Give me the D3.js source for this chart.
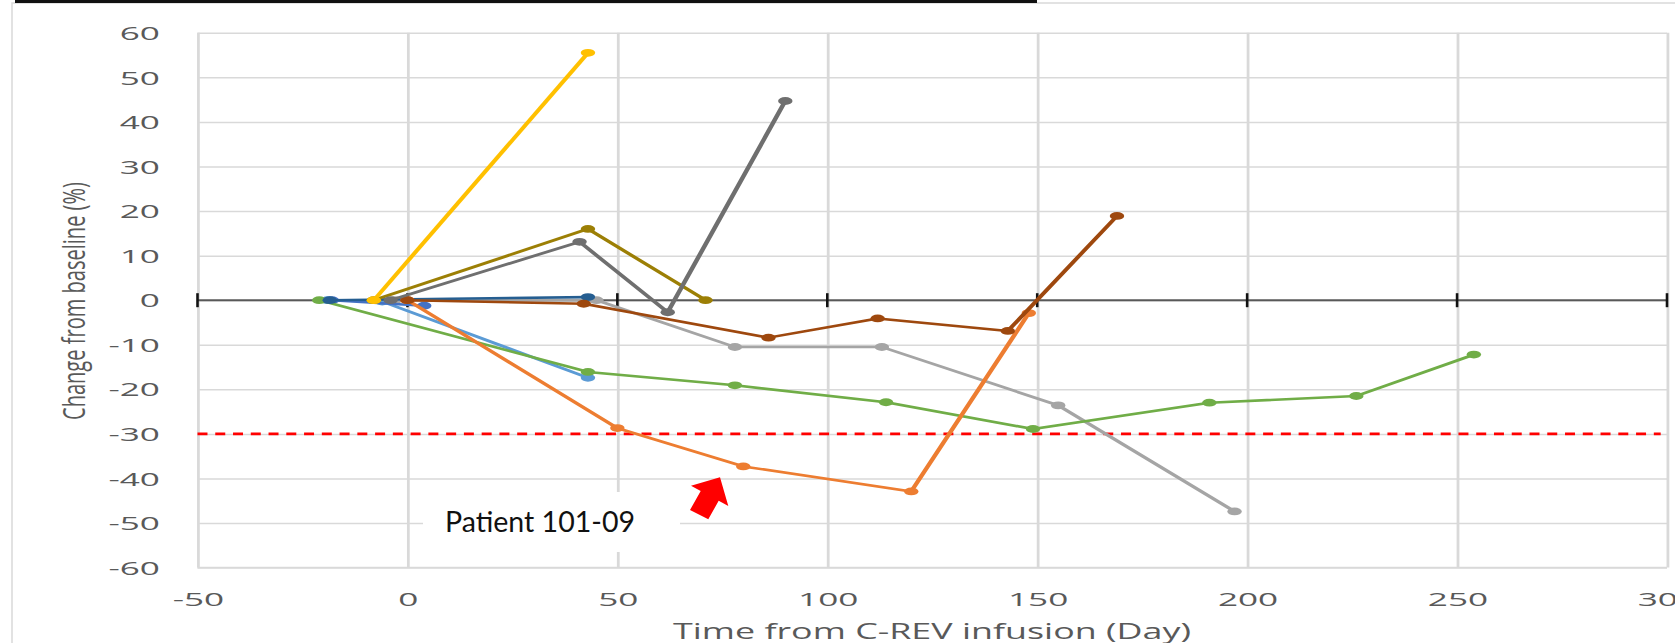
<!DOCTYPE html>
<html>
<head>
<meta charset="utf-8">
<script src="https://cdn.jsdelivr.net/npm/d3@7"></script>
<style>
  html, body { margin: 0; padding: 0; background: #fff; }
  svg { display: block; }
</style>
</head>
<body>
<svg id="chart" width="1675" height="643"></svg>
<script>
// ---------------- DATA ----------------
const xTicks = [-50, 0, 50, 100, 150, 200, 250, 300];
const yTicks = [-60, -50, -40, -30, -20, -10, 0, 10, 20, 30, 40, 50, 60];
const responseThreshold = -30;

const seriesNames = ["lightGray", "lightBlue", "mediumBlue", "green", "darkBlue",
                     "orange", "brown", "olive", "darkGray", "yellow"];

const lightGrayDays   = [-3, 45, 78, 113, 155, 197];
const lightGrayValues = [0, 0, -10.5, -10.5, -23.6, -47.4];

const lightBlueDays   = [-19, -6, 43];
const lightBlueValues = [0, -0.3, -17.4];

const mediumBlueDays   = [-18, 4];
const mediumBlueValues = [0, -1.25];

const greenDays   = [-21, 43, 78, 114, 149, 191, 226, 254];
const greenValues = [0, -16.1, -19.1, -22.9, -28.9, -23.0, -21.5, -12.2];

const darkBlueDays   = [-18.5, 43];
const darkBlueValues = [0, 0.7];

const orangeDays   = [0, 50, 80, 120, 148];
const orangeValues = [0, -28.7, -37.3, -42.9, -2.9];

const brownDays   = [0, 42, 86, 112, 143, 169];
const brownValues = [0, -0.8, -8.4, -4.1, -6.9, 18.9];

const oliveDays   = [-8, 43, 71];
const oliveValues = [0, 16.0, 0];

const darkGrayDays   = [-4, 41, 62, 90];
const darkGrayValues = [0, 13.1, -2.7, 44.7];

const yellowDays   = [-8, 43];
const yellowValues = [0, 55.5];

const seriesColors = ["#A5A5A5", "#5B9BD5", "#4472C4", "#70AD47", "#255E91",
                      "#ED7D31", "#9E480E", "#9C7F05", "#6F6F6F", "#FFC000"];

const xTitle = "Time from C-REV infusion (Day)";
const yTitle = "Change from baseline (%)";
const annotationText = "Patient 101-09";

const allSeries = [
  [lightGrayDays, lightGrayValues], [lightBlueDays, lightBlueValues],
  [mediumBlueDays, mediumBlueValues], [greenDays, greenValues],
  [darkBlueDays, darkBlueValues], [orangeDays, orangeValues],
  [brownDays, brownValues], [oliveDays, oliveValues],
  [darkGrayDays, darkGrayValues], [yellowDays, yellowValues]
].map((p, i) => ({ name: seriesNames[i], color: seriesColors[i],
                   points: p[0].map((d, j) => ({ day: d, value: p[1][j] })) }));

// ---------------- LAYOUT ----------------
const S = 1.85; // horizontal stretch of the original picture
const svg = d3.select("#chart");

// outer chart border
svg.append("path").attr("d", "M12,643 L12,3 L1675,3")
  .attr("fill", "none").attr("stroke", "#D9D9D9").attr("stroke-width", 1.5);
// underline of cut-off heading
svg.append("rect").attr("x", 15).attr("y", 0).attr("width", 1022).attr("height", 3).attr("fill", "#111");

const g = svg.append("g").attr("transform", `scale(${S},1)`);

const x = d3.scaleLinear().domain([-50, 300]).range([197.5 / S, 1667 / S]);
const y = d3.scaleLinear().domain([-60, 60]).range([567.6, 32.8]);
const plotW = x.range()[1] - x.range()[0];
const plotH = y.range()[0] - y.range()[1];

const font = "'Open Sans', sans-serif";
const fmt = d => String(d); // plain hyphen-minus as in the original

// Y axis with gridlines
const yAxisG = g.append("g").attr("transform", `translate(${x(-50)},0)`)
  .call(d3.axisLeft(y).tickValues(yTicks).tickSize(-plotW).tickPadding(20.3).tickFormat(fmt));
yAxisG.select(".domain").remove();
yAxisG.selectAll(".tick line").attr("stroke", "#D9D9D9").attr("stroke-width", 1.5);
yAxisG.selectAll(".tick text").attr("font-family", font).attr("font-size", 19)
  .attr("fill", "#595959").attr("dy", "0.35em");

// X axis with gridlines
const xAxisG = g.append("g").attr("transform", `translate(0,${y(-60)})`)
  .call(d3.axisBottom(x).tickValues(xTicks).tickSize(-plotH).tickPadding(25.4).tickFormat(fmt));
xAxisG.select(".domain").remove();
xAxisG.selectAll(".tick line").attr("stroke", "#D9D9D9").attr("stroke-width", 1.5);
xAxisG.selectAll(".tick text").attr("font-family", font).attr("font-size", 19).attr("fill", "#595959");

// frame bottom
g.append("line").attr("x1", x(-50)).attr("x2", x(300)).attr("y1", y(-60)).attr("y2", y(-60))
  .attr("stroke", "#D9D9D9").attr("stroke-width", 1.5);

// zero line with tick marks
g.append("line").attr("x1", x(-50)).attr("x2", x(300)).attr("y1", y(0)).attr("y2", y(0))
  .attr("stroke", "#595959").attr("stroke-width", 2);
g.selectAll(".zt").data(xTicks).join("line").attr("class", "zt")
  .attr("x1", d => x(d)).attr("x2", d => x(d)).attr("y1", y(0) - 7).attr("y2", y(0) + 7)
  .attr("stroke", "#111").attr("stroke-width", 1.4);

// threshold line
g.append("line").attr("x1", x(-50)).attr("x2", x(298.5)).attr("y1", y(responseThreshold)).attr("y2", y(responseThreshold))
  .attr("stroke", "#FF0000").attr("stroke-width", 2.6).attr("stroke-dasharray", "5.4 4.2");

// series
const line = d3.line().x(d => x(d.day)).y(d => y(d.value));
allSeries.forEach(s => {
  const sg = g.append("g");
  sg.append("path").datum(s.points).attr("d", line).attr("fill", "none")
    .attr("stroke", s.color).attr("stroke-width", 2.6).attr("stroke-linejoin", "round");
  sg.selectAll("circle").data(s.points).join("circle")
    .attr("cx", d => x(d.day)).attr("cy", d => y(d.value)).attr("r", 3.9).attr("fill", s.color);
});

// axis titles
g.append("text").attr("x", 932 / S).attr("y", 639.3).attr("text-anchor", "middle")
  .attr("font-family", font).attr("font-size", 22.4).attr("fill", "#595959")
  .attr("textLength", 518 / S).attr("lengthAdjust", "spacingAndGlyphs").text(xTitle);

g.append("text").attr("transform", `translate(${84.5 / S},301) rotate(-90)`).attr("text-anchor", "middle")
  .attr("font-family", font).attr("font-size", 17).attr("fill", "#595959")
  .attr("textLength", 238).attr("lengthAdjust", "spacingAndGlyphs").text(yTitle);

// annotation: text box and arrow (drawn unstretched)
svg.append("rect").attr("x", 423).attr("y", 492).attr("width", 257).attr("height", 60).attr("fill", "#fff");
svg.append("text").attr("x", 445).attr("y", 532).attr("font-family", "Lato, 'Open Sans', sans-serif")
  .attr("font-size", 29).attr("fill", "#111")
  .attr("textLength", 190).attr("lengthAdjust", "spacingAndGlyphs").text(annotationText);
svg.append("polygon")
  .attr("points", "691,485.7 720,477.3 728.3,506 718.7,500.7 708.3,519.3 690,510 700.7,491")
  .attr("fill", "#FF0000");
</script>
</body>
</html>
